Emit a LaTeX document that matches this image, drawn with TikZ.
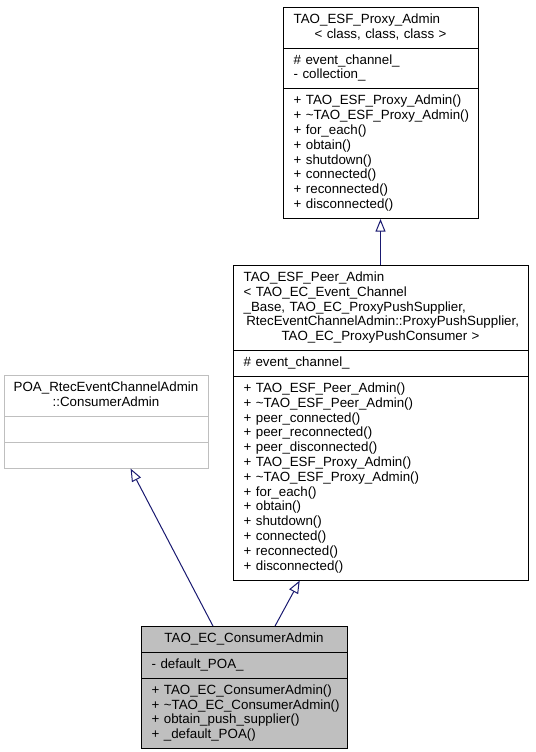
\documentclass[tikz,border=0pt]{standalone}
\usepackage{fontspec}
\setmainfont{Liberation Sans}
\usetikzlibrary{
  shapes.multipart,
  positioning,
  calc,
  arrows.meta,
  }
\definecolor{edgeblue}{HTML}{191970}
\definecolor{boxgray}{HTML}{BFBFBF}
\hyphenpenalty=10000
\exhyphenpenalty=10000
\newcommand\ctr[1]{\leavevmode\hbox to\hsize{\hss#1\hss}}
\newcommand\umlparts[3]{\strut#1\strut\nodepart{two}\strut#2\strut\nodepart{three}\strut#3\strut}

\begin{document}
\begin{tikzpicture}[x=0.75pt, y=-0.75pt,
    classbox/.style={rectangle split, rectangle split parts=3, draw,
      line width=0.75pt, align=left, inner xsep=8pt, inner ysep=3.8pt,
      font=\fontsize{10}{11.1}\selectfont},
    inherit/.style={draw=edgeblue, line width=0.75pt,
      -{Triangle[open, length=9.5pt, width=7.5pt]}},
  ]
\useasboundingbox (0,0) rectangle (535,752);

\node[classbox, text width=130.25pt, anchor=north] (proxy) at (380.5,7)
  {\umlparts{TAO\_ESF\_Proxy\_Admin\\\ctr{< class, class, class >}}
    {\# event\_channel\_\\- collection\_}
    {+~TAO\_ESF\_Proxy\_Admin()\\+~\textasciitilde TAO\_ESF\_Proxy\_Admin()\\+ for\_each()\\+ obtain()\\+ shutdown()\\+ connected()\\+ reconnected()\\+ disconnected()}};

\node[classbox, text width=205.25pt, anchor=north] (peer) at (380.5,265)
  {\umlparts{TAO\_ESF\_Peer\_Admin\\< TAO\_EC\_Event\_Channel\\\_Base,~TAO\_EC\_ProxyPushSupplier,\\\hspace*{2pt}RtecEventChannelAdmin::ProxyPushSupplier,\\\ctr{TAO\_EC\_ProxyPushConsumer >}}
    {\# event\_channel\_}
    {+~TAO\_ESF\_Peer\_Admin()\\+~\textasciitilde TAO\_ESF\_Peer\_Admin()\\+ peer\_connected()\\+ peer\_reconnected()\\+ peer\_disconnected()\\+~TAO\_ESF\_Proxy\_Admin()\\+~\textasciitilde TAO\_ESF\_Proxy\_Admin()\\+ for\_each()\\+ obtain()\\+ shutdown()\\+ connected()\\+ reconnected()\\+ disconnected()}};

\node[classbox, draw=boxgray, text width=137pt, anchor=north] (poa) at (106,375)
  {\umlparts{\ctr{POA\_RtecEventChannelAdmin}\\\ctr{::ConsumerAdmin}}{}{}};

\node[classbox, fill=boxgray, text width=138.5pt, anchor=north] (consumer) at (244,626)
  {\umlparts{\ctr{TAO\_EC\_ConsumerAdmin}}
    {- default\_POA\_}
    {+~TAO\_EC\_ConsumerAdmin()\\+~\textasciitilde TAO\_EC\_ConsumerAdmin()\\+~obtain\_push\_supplier()\\+~\_default\_POA()}};

\draw[inherit] (peer.north) -- (proxy.south);
\draw[inherit] ($(consumer.north west)!0.35!(consumer.north east)$) -- ($(poa.south west)!0.62!(poa.south east)$);
\draw[inherit] ($(consumer.north west)!0.65!(consumer.north east)$) -- ($(peer.south west)!0.227!(peer.south east)$);
\end{tikzpicture}
\end{document}
